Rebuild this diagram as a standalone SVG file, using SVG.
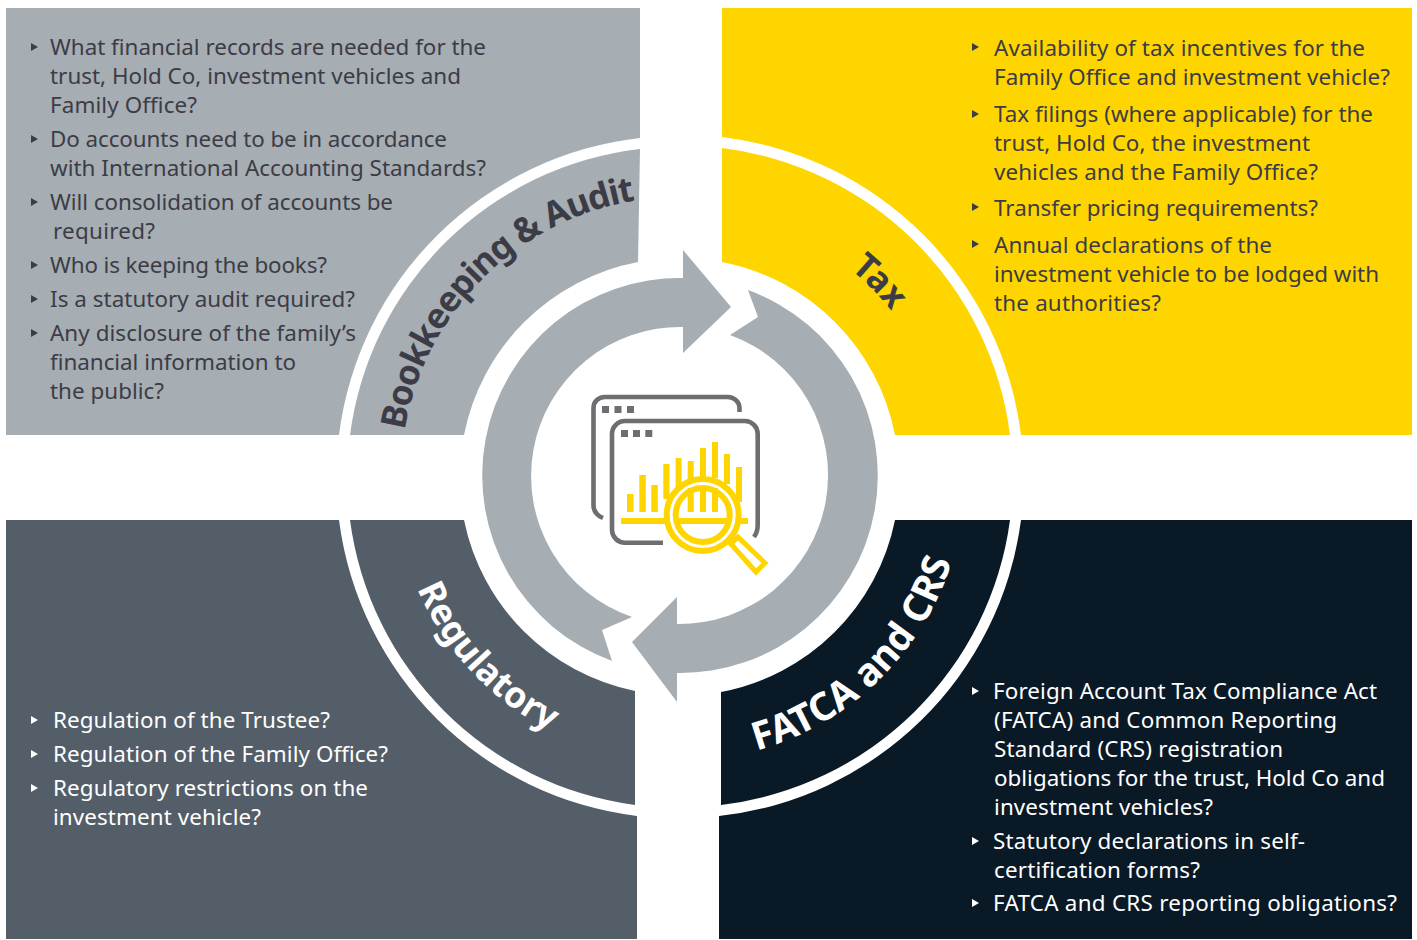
<svg xmlns="http://www.w3.org/2000/svg" width="1417" height="940" viewBox="0 0 1417 940">
<style>
.g{fill:#A6ADB3}.y{fill:#FFD500}.s{fill:#535E69}.n{fill:#0A1926}
text{font-family:"Noto Sans","Open Sans","Liberation Sans",sans-serif}
.b{font-size:22.4px}
.dk{fill:#3C3C46}.wt{fill:#fff}
.t{font-weight:700}
.bm{fill:#3C3C46}.bw{fill:#fff}
.ig{fill:none;stroke:#6D6E71;stroke-width:4.6}
.iy{fill:#FFD500}
.il{fill:#fff;stroke:#FFD500;stroke-width:6}
</style>
<defs>
<path id="a1" d="M401,476A279,279 0 0 1 680,197"/>
<path id="a2" d="M680,208A268,268 0 0 1 948,476"/>
<path id="a3" d="M680,761A285,285 0 0 0 965,476"/>
<path id="a4" d="M394,476A286,286 0 0 0 680,762"/>
<polygon id="tri" points="0,-4 7,0 0,4"/>
</defs>
<g id="node-bookkeeping">
<path class="g" d="M6,8H640V138A342,342 0 0 0 339,435H6Z"/>
<path class="g" d="M640,149L638,262A219,219 0 0 0 464,435H350A331,331 0 0 1 640,149Z"/>
<g class="b dk">
<text x="50" y="55.3" textLength="436">What financial records are needed for the</text>
<text x="50" y="84.3" textLength="411">trust, Hold Co, investment vehicles and</text>
<text x="50" y="113.3" textLength="147">Family Office?</text>
<text x="50" y="147.3" textLength="397">Do accounts need to be in accordance</text>
<text x="50" y="176.3" textLength="436">with International Accounting Standards?</text>
<text x="50" y="210.3" textLength="343">Will consolidation of accounts be</text>
<text x="53" y="239.3" textLength="102">required?</text>
<text x="50" y="273.3" textLength="277">Who is keeping the books?</text>
<text x="50" y="307.3" textLength="305">Is a statutory audit required?</text>
<text x="50" y="341.3" textLength="306">Any disclosure of the family’s</text>
<text x="50" y="370.3" textLength="246">financial information to</text>
<text x="50" y="399.3" textLength="114">the public?</text>
</g>
<g class="bm">
<use href="#tri" x="31" y="47"/><use href="#tri" x="31" y="139"/><use href="#tri" x="31" y="202"/><use href="#tri" x="31" y="265"/><use href="#tri" x="31" y="299"/><use href="#tri" x="31" y="333"/>
</g>
<text class="t dk" font-size="35" letter-spacing="-1.2"><textPath href="#a1" startOffset="50%" text-anchor="middle">Bookkeeping &amp; Audit</textPath></text>
</g>
<g id="node-tax">
<path class="y" d="M722,8H1412V435H1021A342,342 0 0 0 722,137Z"/>
<path class="y" d="M722,148A331,331 0 0 1 1010,435H895A219,219 0 0 0 722,262Z"/>
<g class="b dk">
<text x="994" y="56.3" textLength="371">Availability of tax incentives for the</text>
<text x="994" y="85.3" textLength="396">Family Office and investment vehicle?</text>
<text x="994" y="122.3" textLength="379">Tax filings (where applicable) for the</text>
<text x="994" y="151.3" textLength="316">trust, Hold Co, the investment</text>
<text x="994" y="180.3" textLength="324">vehicles and the Family Office?</text>
<text x="994" y="216.3" textLength="324">Transfer pricing requirements?</text>
<text x="994" y="253.3" textLength="278">Annual declarations of the</text>
<text x="994" y="282.3" textLength="385">investment vehicle to be lodged with</text>
<text x="994" y="311.3" textLength="167">the authorities?</text>
</g>
<g class="bm">
<use href="#tri" x="972" y="47"/><use href="#tri" x="972" y="114"/><use href="#tri" x="972" y="207"/><use href="#tri" x="972" y="244"/>
</g>
<text class="t dk" font-size="35"><textPath href="#a2" startOffset="214" text-anchor="middle">Tax</textPath></text>
</g>
<g id="node-regulatory">
<path class="s" d="M6,520H339A342,342 0 0 0 637,816V939H6Z"/>
<path class="s" d="M350,520H464A219,219 0 0 0 635,691V805A331,331 0 0 1 350,520Z"/>
<g class="b wt">
<text x="53" y="728.3" textLength="277">Regulation of the Trustee?</text>
<text x="53" y="762.3" textLength="335">Regulation of the Family Office?</text>
<text x="53" y="796.3" textLength="315">Regulatory restrictions on the</text>
<text x="53" y="825.3" textLength="208">investment vehicle?</text>
</g>
<g class="bw">
<use href="#tri" x="31" y="720"/><use href="#tri" x="31" y="754"/><use href="#tri" x="31" y="788"/>
</g>
<text class="t wt" font-size="36"><textPath href="#a4" startOffset="215" text-anchor="middle">Regulatory</textPath></text>
</g>
<g id="node-fatca">
<path class="n" d="M1021,520H1412V939H719V816A342,342 0 0 0 1021,520Z"/>
<path class="n" d="M895,520H1010A331,331 0 0 1 721,805V692A219,219 0 0 0 895,520Z"/>
<g class="b wt">
<text x="993" y="699.3" textLength="384">Foreign Account Tax Compliance Act</text>
<text x="994" y="728.3" textLength="343">(FATCA) and Common Reporting</text>
<text x="994" y="757.3" textLength="289">Standard (CRS) registration</text>
<text x="994" y="786.3" textLength="391">obligations for the trust, Hold Co and</text>
<text x="994" y="815.3" textLength="219">investment vehicles?</text>
<text x="993" y="849.3" textLength="312">Statutory declarations in self-</text>
<text x="994" y="878.3" textLength="206">certification forms?</text>
<text x="993" y="911.3" textLength="404">FATCA and CRS reporting obligations?</text>
</g>
<g class="bw">
<use href="#tri" x="972" y="691"/><use href="#tri" x="972" y="841"/><use href="#tri" x="972" y="903"/>
</g>
<text class="t wt" font-size="38.8"><textPath href="#a3" startOffset="219" text-anchor="middle">FATCA and CRS</textPath></text>
</g>
<g id="connectors">
<path class="g" d="M632,617A149,149 0 0 1 683,327V353L731,307L683,250V278A197.5,197.5 0 0 0 612,661L602,630Z"/>
<path class="g" d="M748,290A197.5,197.5 0 0 1 677,673V702L632,642L677,597V624A149,149 0 0 0 730,335L758,317Z"/>
</g>
<g id="node-icon">
<path class="ig" d="M603,518Q593.5,514 593.5,505V408A11,11 0 0 1 604.5,397H728A11.5,11.5 0 0 1 739.5,408V412"/>
<path class="ig" d="M663,542.7H625A13,13 0 0 1 612,530V434A13,13 0 0 1 625,421H745A13,13 0 0 1 757.7,434V525Q757.7,532 754,537"/>
<g fill="#6D6E71">
<rect x="602" y="406" width="7" height="7"/><rect x="614.5" y="406" width="7" height="7"/><rect x="627" y="406" width="7" height="7"/>
<rect x="621" y="430" width="7" height="7"/><rect x="633" y="430" width="7" height="7"/><rect x="645.3" y="430" width="7" height="7"/>
</g>
<g class="iy">
<rect x="621" y="518" width="127" height="6"/>
<rect x="627" y="494" width="6.5" height="18"/><rect x="639.3" y="475" width="6.5" height="37"/><rect x="651.3" y="485" width="6.5" height="27"/>
<rect x="663.3" y="464" width="6.2" height="35"/><rect x="675.6" y="458" width="6" height="30"/><rect x="687.7" y="461" width="6" height="20"/>
<rect x="700" y="448" width="6" height="30"/><rect x="712" y="442" width="6" height="36"/><rect x="724" y="454" width="6" height="30"/><rect x="736" y="467" width="6" height="35"/>
</g>
<polygon fill="#fff" stroke="#FFD500" stroke-width="5" stroke-linejoin="miter" points="731,544 738,537 765,563 756,572"/>
<circle class="il" cx="702.7" cy="515" r="36"/>
<circle class="il" cx="702.7" cy="515" r="27"/>
<g class="iy">
<rect x="687.7" y="488" width="6" height="24"/><rect x="700" y="487" width="6" height="25"/><rect x="712" y="488" width="6" height="24"/>
<rect x="677" y="518" width="53" height="6"/>
</g>
</g>
</svg>
